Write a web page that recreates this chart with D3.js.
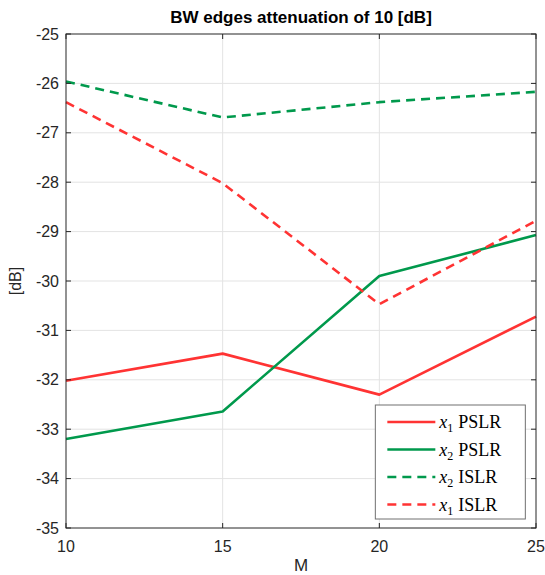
<!DOCTYPE html>
<html>
<head>
<meta charset="utf-8">
<script src="https://cdn.jsdelivr.net/npm/d3@7"></script>
<style>
  body { margin: 0; background: #fff; }
  svg { display: block; font-family: "Liberation Sans", Arial, sans-serif; }
  .grid line { stroke: #e3e3e3; stroke-width: 1; }
  .tick-label { font-size: 16px; fill: #262626; }
</style>
</head>
<body>
<div id="chart"></div>
<script>
//////////////////////// Data ///////////////////////////
const mValues = [10, 15, 20, 25]
const x1PSLR = [-32.02, -31.47, -32.30, -30.72]
const x2PSLR = [-33.20, -32.64, -29.90, -29.07]
const x2ISLR = [-25.96, -26.69, -26.38, -26.17]
const x1ISLR = [-26.38, -28.02, -30.47, -28.78]
const yTicks = [-25, -26, -27, -28, -29, -30, -31, -32, -33, -34, -35]
const xTicks = [10, 15, 20, 25]

const red = "#ff3333"
const green = "#00994c"

const series = [
  { sub: "1", name: "PSLR", values: x1PSLR, color: red, dash: null },
  { sub: "2", name: "PSLR", values: x2PSLR, color: green, dash: null },
  { sub: "2", name: "ISLR", values: x2ISLR, color: green, dash: "9,6" },
  { sub: "1", name: "ISLR", values: x1ISLR, color: red, dash: "9,6" },
]

//////////////////////// SVG ///////////////////////////
const W = 545, H = 575
const margin = { left: 66, right: 9, top: 34, bottom: 47 }
const width = W - margin.left - margin.right
const height = H - margin.top - margin.bottom

const svg = d3.select("#chart").append("svg")
  .attr("width", W).attr("height", H)

const g = svg.append("g")
  .attr("transform", `translate(${margin.left},${margin.top})`)

const x = d3.scaleLinear().domain([10, 25]).range([0, width])
const y = d3.scaleLinear().domain([-35, -25]).range([height, 0])

//Gridlines
const grid = g.append("g").attr("class", "grid")
grid.selectAll(".gx").data(xTicks.slice(1, -1)).enter().append("line")
  .attr("x1", d => x(d)).attr("x2", d => x(d))
  .attr("y1", 0).attr("y2", height)
grid.selectAll(".gy").data(yTicks.slice(1, -1)).enter().append("line")
  .attr("y1", d => y(d)).attr("y2", d => y(d))
  .attr("x1", 0).attr("x2", width)

//Lines
const line = d3.line()
  .x((d, i) => x(mValues[i]))
  .y(d => y(d))

g.selectAll(".series").data(series).enter().append("path")
  .attr("d", d => line(d.values))
  .attr("fill", "none")
  .attr("stroke", d => d.color)
  .attr("stroke-width", 2.6)
  .attr("stroke-dasharray", d => d.dash)
  .attr("stroke-linejoin", "round")

//Axes (box with inward ticks)
const axisColor = "#262626"
const tickLen = 5
const axisG = g.append("g")
axisG.append("rect")
  .attr("width", width).attr("height", height)
  .attr("fill", "none").attr("stroke", axisColor).attr("stroke-width", 1)

yTicks.forEach(t => {
  axisG.append("line").attr("x1", 0).attr("x2", tickLen)
    .attr("y1", y(t)).attr("y2", y(t)).attr("stroke", axisColor)
  axisG.append("line").attr("x1", width - tickLen).attr("x2", width)
    .attr("y1", y(t)).attr("y2", y(t)).attr("stroke", axisColor)
})
xTicks.forEach(t => {
  axisG.append("line").attr("y1", height).attr("y2", height - tickLen)
    .attr("x1", x(t)).attr("x2", x(t)).attr("stroke", axisColor)
  axisG.append("line").attr("y1", 0).attr("y2", tickLen)
    .attr("x1", x(t)).attr("x2", x(t)).attr("stroke", axisColor)
})

g.selectAll(".ylab").data(yTicks).enter().append("text")
  .attr("class", "tick-label")
  .attr("x", -7).attr("y", d => y(d))
  .attr("dy", "0.35em")
  .attr("text-anchor", "end")
  .text(d => d)

g.selectAll(".xlab").data(xTicks).enter().append("text")
  .attr("class", "tick-label")
  .attr("x", d => x(d)).attr("y", height + 24)
  .attr("text-anchor", "middle")
  .text(d => d)

//Axis titles
g.append("text")
  .attr("x", width / 2).attr("y", height + 43)
  .attr("text-anchor", "middle")
  .style("font-size", "17px").style("fill", axisColor)
  .text("M")

g.append("text")
  .attr("transform", `translate(${-45},${height / 2}) rotate(-90)`)
  .attr("text-anchor", "middle")
  .style("font-size", "16px").style("fill", axisColor)
  .text("[dB]")

//Title
g.append("text")
  .attr("x", width / 2).attr("y", -11)
  .attr("text-anchor", "middle")
  .style("font-size", "17px").style("font-weight", "bold").style("fill", "#000")
  .text("BW edges attenuation of 10 [dB]")

//Legend
const legend = g.append("g")
  .attr("transform", `translate(${x(20) - 4},${371})`)

legend.append("rect")
  .attr("width", 150).attr("height", 114)
  .attr("fill", "#fff").attr("stroke", "#707070").attr("stroke-width", 1)

const item = legend.selectAll(".item").data(series).enter().append("g")
  .attr("transform", (d, i) => `translate(0,${17 + i * 27.5})`)

item.append("line")
  .attr("x1", 12).attr("x2", 60)
  .attr("stroke", d => d.color)
  .attr("stroke-width", 2.6)
  .attr("stroke-dasharray", d => d.dash)

const label = item.append("text")
  .attr("x", 64).attr("y", 6)
  .style("font-family", "'Liberation Serif', 'DejaVu Serif', serif")
  .style("font-size", "18px").style("fill", "#000")
label.append("tspan").style("font-style", "italic").text("x")
label.append("tspan").attr("dy", 4).style("font-size", "12px").text(d => d.sub)
label.append("tspan").attr("dy", -4).attr("dx", 5).text(d => d.name)
</script>
</body>
</html>
